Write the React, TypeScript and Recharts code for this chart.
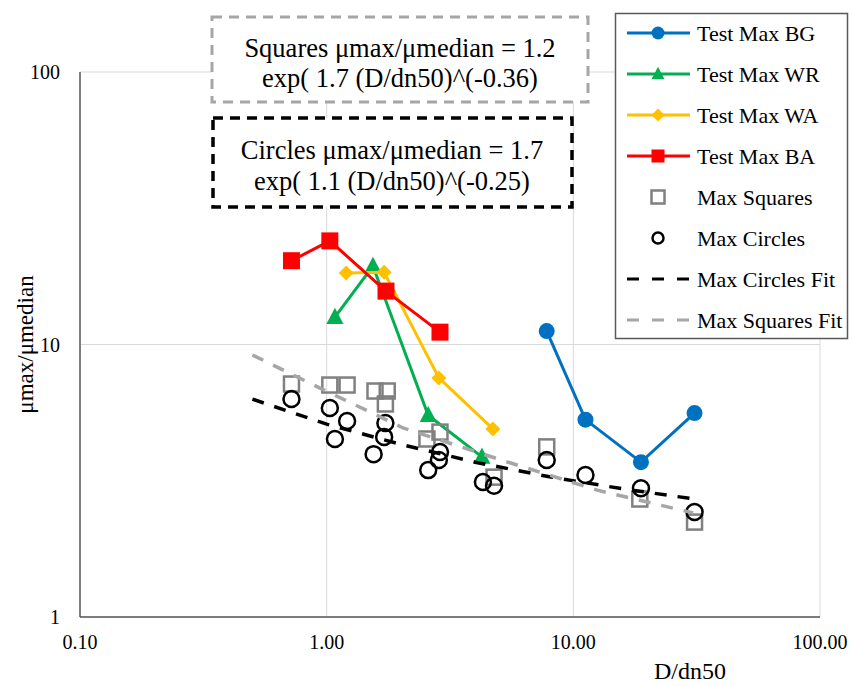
import React from 'react';
import { ScatterChart, Scatter, XAxis, YAxis, CartesianGrid } from 'recharts';

const SERIF = '"Liberation Serif", "Times New Roman", serif';

// Test maxima, D/dn50 vs umax/umedian
const bgX = [7.8, 11.2, 18.8, 31.0];
const bgY = [11.2, 5.3, 3.7, 5.6];
const wrX = [1.08, 1.54, 2.58, 4.26];
const wrY = [12.6, 19.4, 5.5, 3.87];
const waX = [1.2, 1.71, 2.85, 4.72];
const waY = [18.3, 18.4, 7.54, 4.9];
const baX = [0.72, 1.03, 1.74, 2.88];
const baY = [20.3, 24.0, 15.7, 11.1];

// Armour unit maxima
const squaresX = [0.72, 1.03, 1.21, 1.57, 1.76, 1.73, 2.55, 2.88, 4.77, 7.8, 18.6, 31.0];
const squaresY = [7.16, 7.1, 7.1, 6.75, 6.75, 6.05, 4.5, 4.77, 3.26, 4.21, 2.71, 2.23];
const circlesX = [0.72, 1.03, 1.08, 1.21, 1.55, 1.73, 1.71, 2.58, 2.85, 2.88, 4.3, 4.77, 7.8, 11.2, 18.8, 31.0];
const circlesY = [6.31, 5.85, 4.5, 5.24, 3.96, 5.15, 4.58, 3.46, 3.77, 4.03, 3.13, 3.03, 3.77, 3.32, 2.97, 2.43];

// Fitted curves
const circlesFitX = [0.5, 1, 2, 4, 8, 16, 31];
const circlesFitY = [6.3, 5.1, 4.3, 3.7, 3.27, 2.95, 2.71];
const squaresFitX = [0.5, 0.94, 1.5, 2.04, 5.38, 12.5, 30.6];
const squaresFitY = [9.15, 6.92, 5.65, 4.94, 3.71, 2.92, 2.41];

const xTicks = [0.1, 1, 10, 100];
const yTicks = [1, 10, 100];

const toPoints = (xs: number[], ys: number[]) => xs.map((x, i) => ({ x, y: ys[i] }));

const BLUE = '#0070C0';
const GREEN = '#00B050';
const YELLOW = '#FFC000';
const RED = '#FF0000';
const GREY = '#808080';
const FIT_GREY = '#A6A6A6';

type Marker = 'circle' | 'triangle' | 'diamond' | 'square' | 'hollowSquare' | 'hollowCircle' | 'none';

const drawMarker = (m: Marker, cx: number, cy: number, color: string, s: number) => {
  switch (m) {
    case 'circle':
      return <circle cx={cx} cy={cy} r={s / 2} fill={color} />;
    case 'triangle':
      return (
        <polygon
          points={`${cx},${cy - s * 0.55} ${cx + s / 2},${cy + s * 0.4} ${cx - s / 2},${cy + s * 0.4}`}
          fill={color}
        />
      );
    case 'diamond':
      return <polygon points={`${cx},${cy - s / 2} ${cx + s / 2},${cy} ${cx},${cy + s / 2} ${cx - s / 2},${cy}`} fill={color} />;
    case 'square':
      return <rect x={cx - s / 2} y={cy - s / 2} width={s} height={s} fill={color} />;
    case 'hollowSquare':
      return <rect x={cx - s / 2} y={cy - s / 2} width={s} height={s} fill="none" stroke={color} strokeWidth={2.5} />;
    case 'hollowCircle':
      return <circle cx={cx} cy={cy} r={s / 2} fill="none" stroke={color} strokeWidth={2.5} />;
    default:
      return <g />;
  }
};

const shapeOf = (m: Marker, color: string, s: number) => (p: any) => drawMarker(m, p.cx, p.cy, color, s);

const legendItems: { name: string; color: string; marker: Marker; line: boolean; dash?: string }[] = [
  { name: 'Test Max BG', color: BLUE, marker: 'circle', line: true },
  { name: 'Test Max WR', color: GREEN, marker: 'triangle', line: true },
  { name: 'Test Max WA', color: YELLOW, marker: 'diamond', line: true },
  { name: 'Test Max BA', color: RED, marker: 'square', line: true },
  { name: 'Max Squares', color: GREY, marker: 'hollowSquare', line: false },
  { name: 'Max Circles', color: '#000000', marker: 'hollowCircle', line: false },
  { name: 'Max Circles Fit', color: '#000000', marker: 'none', line: true, dash: '12 13' },
  { name: 'Max Squares Fit', color: FIT_GREY, marker: 'none', line: true, dash: '12 13' },
];

const Overlay = () => (
  <svg width={852} height={686} style={{ position: 'absolute', left: 0, top: 0, pointerEvents: 'none' }}>
    {/* fit equations */}
    <rect x={212} y={17} width={376} height={85} fill="#fff" stroke={FIT_GREY} strokeWidth={3} strokeDasharray="10 7" />
    <text x={400} y={48} textAnchor="middle" dominantBaseline="central" fontFamily={SERIF} fontSize={26.5}>
      Squares μmax/μmedian = 1.2
    </text>
    <text x={400} y={78} textAnchor="middle" dominantBaseline="central" fontFamily={SERIF} fontSize={26.5}>
      exp( 1.7 (D/dn50)^(-0.36)
    </text>
    <rect x={213} y={118} width={359} height={89} fill="#fff" stroke="#000" strokeWidth={3.5} strokeDasharray="10 7" />
    <text x={392} y={150} textAnchor="middle" dominantBaseline="central" fontFamily={SERIF} fontSize={26.5}>
      Circles μmax/μmedian = 1.7
    </text>
    <text x={392} y={181} textAnchor="middle" dominantBaseline="central" fontFamily={SERIF} fontSize={26.5}>
      exp( 1.1 (D/dn50)^(-0.25)
    </text>

    {/* legend */}
    <rect x={615.5} y={13.5} width={232} height={325} fill="#fff" stroke="#595959" strokeWidth={1.5} />
    {legendItems.map((it, i) => {
      const y = 33 + i * 41;
      const size = it.marker === 'hollowCircle' ? 11 : 13;
      return (
        <g key={it.name}>
          {it.line && (
            <line x1={627} x2={690} y1={y} y2={y} stroke={it.color} strokeWidth={3} strokeDasharray={it.dash} />
          )}
          {drawMarker(it.marker, 658, y, it.color, size)}
          <text x={697} y={y} dominantBaseline="central" fontFamily={SERIF} fontSize={22}>
            {it.name}
          </text>
        </g>
      );
    })}
  </svg>
);

const App: React.FC = () => {
  return (
    <div style={{ position: 'absolute', left: 0, top: 0, width: 852, height: 686, background: '#fff' }}>
      <ScatterChart width={852} height={686} margin={{ top: 72, right: 32, bottom: 0, left: 0 }}>
        <CartesianGrid stroke="#D9D9D9" />
        <XAxis
          dataKey="x"
          type="number"
          scale="log"
          domain={[0.1, 100]}
          ticks={xTicks}
          interval={0}
          allowDataOverflow
          height={69}
          tickLine={false}
          tickMargin={12}
          axisLine={{ stroke: '#595959', strokeWidth: 1.5 }}
          tick={{ fill: '#000', fontSize: 20, fontFamily: SERIF }}
          tickFormatter={(v: number) => v.toFixed(2)}
          label={{
            value: 'D/dn50',
            position: 'insideBottom',
            offset: 7,
            dx: 240,
            style: { fill: '#000', fontSize: 24, fontFamily: SERIF },
          }}
        />
        <YAxis
          dataKey="y"
          type="number"
          scale="log"
          domain={[1, 100]}
          ticks={yTicks}
          interval={0}
          allowDataOverflow
          width={80}
          tickLine={false}
          tickMargin={14}
          axisLine={{ stroke: '#595959', strokeWidth: 1.5 }}
          tick={{ fill: '#000', fontSize: 20, fontFamily: SERIF }}
          label={{
            value: 'μmax/μmedian',
            angle: -90,
            position: 'insideLeft',
            offset: 25,
            style: { fill: '#000', fontSize: 23, fontFamily: SERIF, textAnchor: 'middle' },
          }}
        />
        <Scatter name="Test Max BG" data={toPoints(bgX, bgY)} line={{ stroke: BLUE, strokeWidth: 3 }} shape={shapeOf('circle', BLUE, 16)} isAnimationActive={false} />
        <Scatter name="Test Max WR" data={toPoints(wrX, wrY)} line={{ stroke: GREEN, strokeWidth: 3 }} shape={shapeOf('triangle', GREEN, 17)} isAnimationActive={false} />
        <Scatter name="Test Max WA" data={toPoints(waX, waY)} line={{ stroke: YELLOW, strokeWidth: 3 }} shape={shapeOf('diamond', YELLOW, 15)} isAnimationActive={false} />
        <Scatter name="Test Max BA" data={toPoints(baX, baY)} line={{ stroke: RED, strokeWidth: 3 }} shape={shapeOf('square', RED, 17)} isAnimationActive={false} />
        <Scatter name="Max Squares" data={toPoints(squaresX, squaresY)} shape={shapeOf('hollowSquare', GREY, 15)} isAnimationActive={false} />
        <Scatter name="Max Circles" data={toPoints(circlesX, circlesY)} shape={shapeOf('hollowCircle', '#000', 16)} isAnimationActive={false} />
        <Scatter
          name="Max Circles Fit"
          data={toPoints(circlesFitX, circlesFitY)}
          line={{ stroke: '#000', strokeWidth: 3.5, strokeDasharray: '12 11' }}
          shape={shapeOf('none', '#000', 0)}
          isAnimationActive={false}
        />
        <Scatter
          name="Max Squares Fit"
          data={toPoints(squaresFitX, squaresFitY)}
          line={{ stroke: FIT_GREY, strokeWidth: 3.5, strokeDasharray: '12 11' }}
          shape={shapeOf('none', FIT_GREY, 0)}
          isAnimationActive={false}
        />
      </ScatterChart>
      <Overlay />
    </div>
  );
};

export default App;
